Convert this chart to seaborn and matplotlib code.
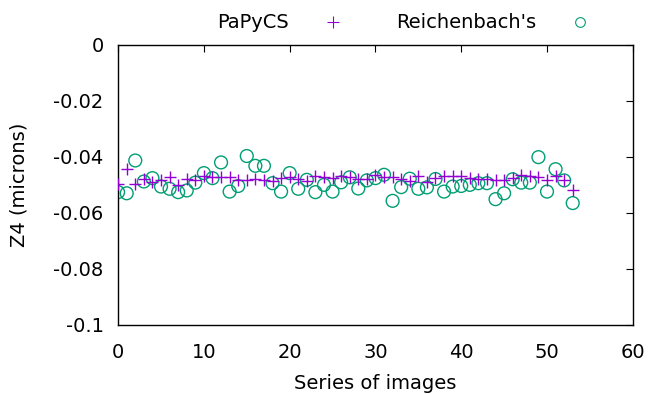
import numpy as np
import pandas as pd
import matplotlib
matplotlib.use("Agg")
import matplotlib.pyplot as plt
import seaborn as sns
from matplotlib.lines import Line2D

series = list(range(54))
papycs = [-0.0497, -0.0445, -0.0497, -0.0481, -0.0489, -0.0485, -0.0474, -0.0501, -0.0481, -0.0485,
          -0.0471, -0.0474, -0.0474, -0.0474, -0.0483, -0.0483, -0.0481, -0.0483, -0.0486, -0.0477,
          -0.0474, -0.0481, -0.0486, -0.0471, -0.0474, -0.0477, -0.0471, -0.0474, -0.0481, -0.0480,
          -0.0465, -0.0474, -0.0474, -0.0481, -0.0486, -0.0471, -0.0489, -0.0477, -0.0471, -0.0469,
          -0.0471, -0.0477, -0.0481, -0.0481, -0.0483, -0.0483, -0.0477, -0.0465, -0.0469, -0.0474,
          -0.0483, -0.0469, -0.0483, -0.0521]
reichenbach = [-0.0527, -0.0531, -0.0414, -0.0489, -0.0477, -0.0507, -0.0515, -0.0527, -0.0521, -0.0493,
               -0.0459, -0.0477, -0.0421, -0.0525, -0.0505, -0.0398, -0.0433, -0.0433, -0.0495, -0.0525,
               -0.0459, -0.0515, -0.0483, -0.0527, -0.0501, -0.0525, -0.0492, -0.0474, -0.0514, -0.0485,
               -0.0477, -0.0465, -0.0558, -0.0509, -0.0479, -0.0515, -0.0510, -0.0480, -0.0525, -0.0507,
               -0.0505, -0.0501, -0.0495, -0.0495, -0.0552, -0.0531, -0.0481, -0.0493, -0.0493, -0.0402,
               -0.0525, -0.0445, -0.0485, -0.0566]
labels = ["PaPyCS", "Reichenbach's"]
x_ticks = [0, 10, 20, 30, 40, 50, 60]
y_ticks = [0, -0.02, -0.04, -0.06, -0.08, -0.1]
y_ticklabels = ["0", "-0.02", "-0.04", "-0.06", "-0.08", "-0.1"]

sns.set_style("white")
plt.rcParams['font.family'] = ['DejaVu Sans']
plt.rcParams['text.color'] = 'black'
plt.rcParams['axes.labelcolor'] = 'black'

df1 = pd.DataFrame({"x": series, "y": papycs})
df2 = pd.DataFrame({"x": series, "y": reichenbach})

fig = plt.figure(figsize=(6.49, 3.94), dpi=100)
ax = fig.add_axes([0.182, 0.176, 0.793, 0.711])

purple = "#9400d3"
green = "#009e73"
fs = 14

sns.scatterplot(data=df1, x="x", y="y", marker="+", s=80, color=purple, linewidth=1.0, ax=ax, zorder=3)
sns.scatterplot(data=df2, x="x", y="y", marker="o", s=85, facecolors="none", edgecolor=green,
                linewidth=1.0, ax=ax, zorder=2)

ax.set_xlim(0, 60)
ax.set_ylim(-0.1, 0)
ax.set_xticks(x_ticks)
ax.set_yticks(y_ticks)
ax.set_yticklabels(y_ticklabels)
ax.tick_params(direction="in", top=True, right=True, length=5, width=0.8, labelsize=fs,
               colors="black", labelcolor="black")
ax.tick_params(axis="x", pad=13)
ax.tick_params(axis="y", pad=10.5)
for sp in ax.spines.values():
    sp.set_color("black")
    sp.set_linewidth(1.0)
ax.set_xlabel("Series of images", fontsize=fs, color="black")
ax.set_ylabel("Z4 (microns)", fontsize=fs, color="black")
ax.xaxis.set_label_coords(0.5, -0.176)
ax.yaxis.set_label_coords(-0.175, 0.5)

handles = [Line2D([], [], marker="+", color=purple, linestyle="none", markersize=8, markeredgewidth=0.8),
           Line2D([], [], marker="o", color=green, markerfacecolor="none", linestyle="none",
                  markersize=7, markeredgewidth=0.8)]
leg = fig.legend(handles, labels, loc="center", bbox_to_anchor=(0.629, 0.942), ncol=2, frameon=False,
                 markerfirst=False, fontsize=fs, columnspacing=2.25, handletextpad=1.27, handlelength=2.0)
for t in leg.get_texts():
    t.set_color("black")

fig.savefig("out.png", dpi=100)
